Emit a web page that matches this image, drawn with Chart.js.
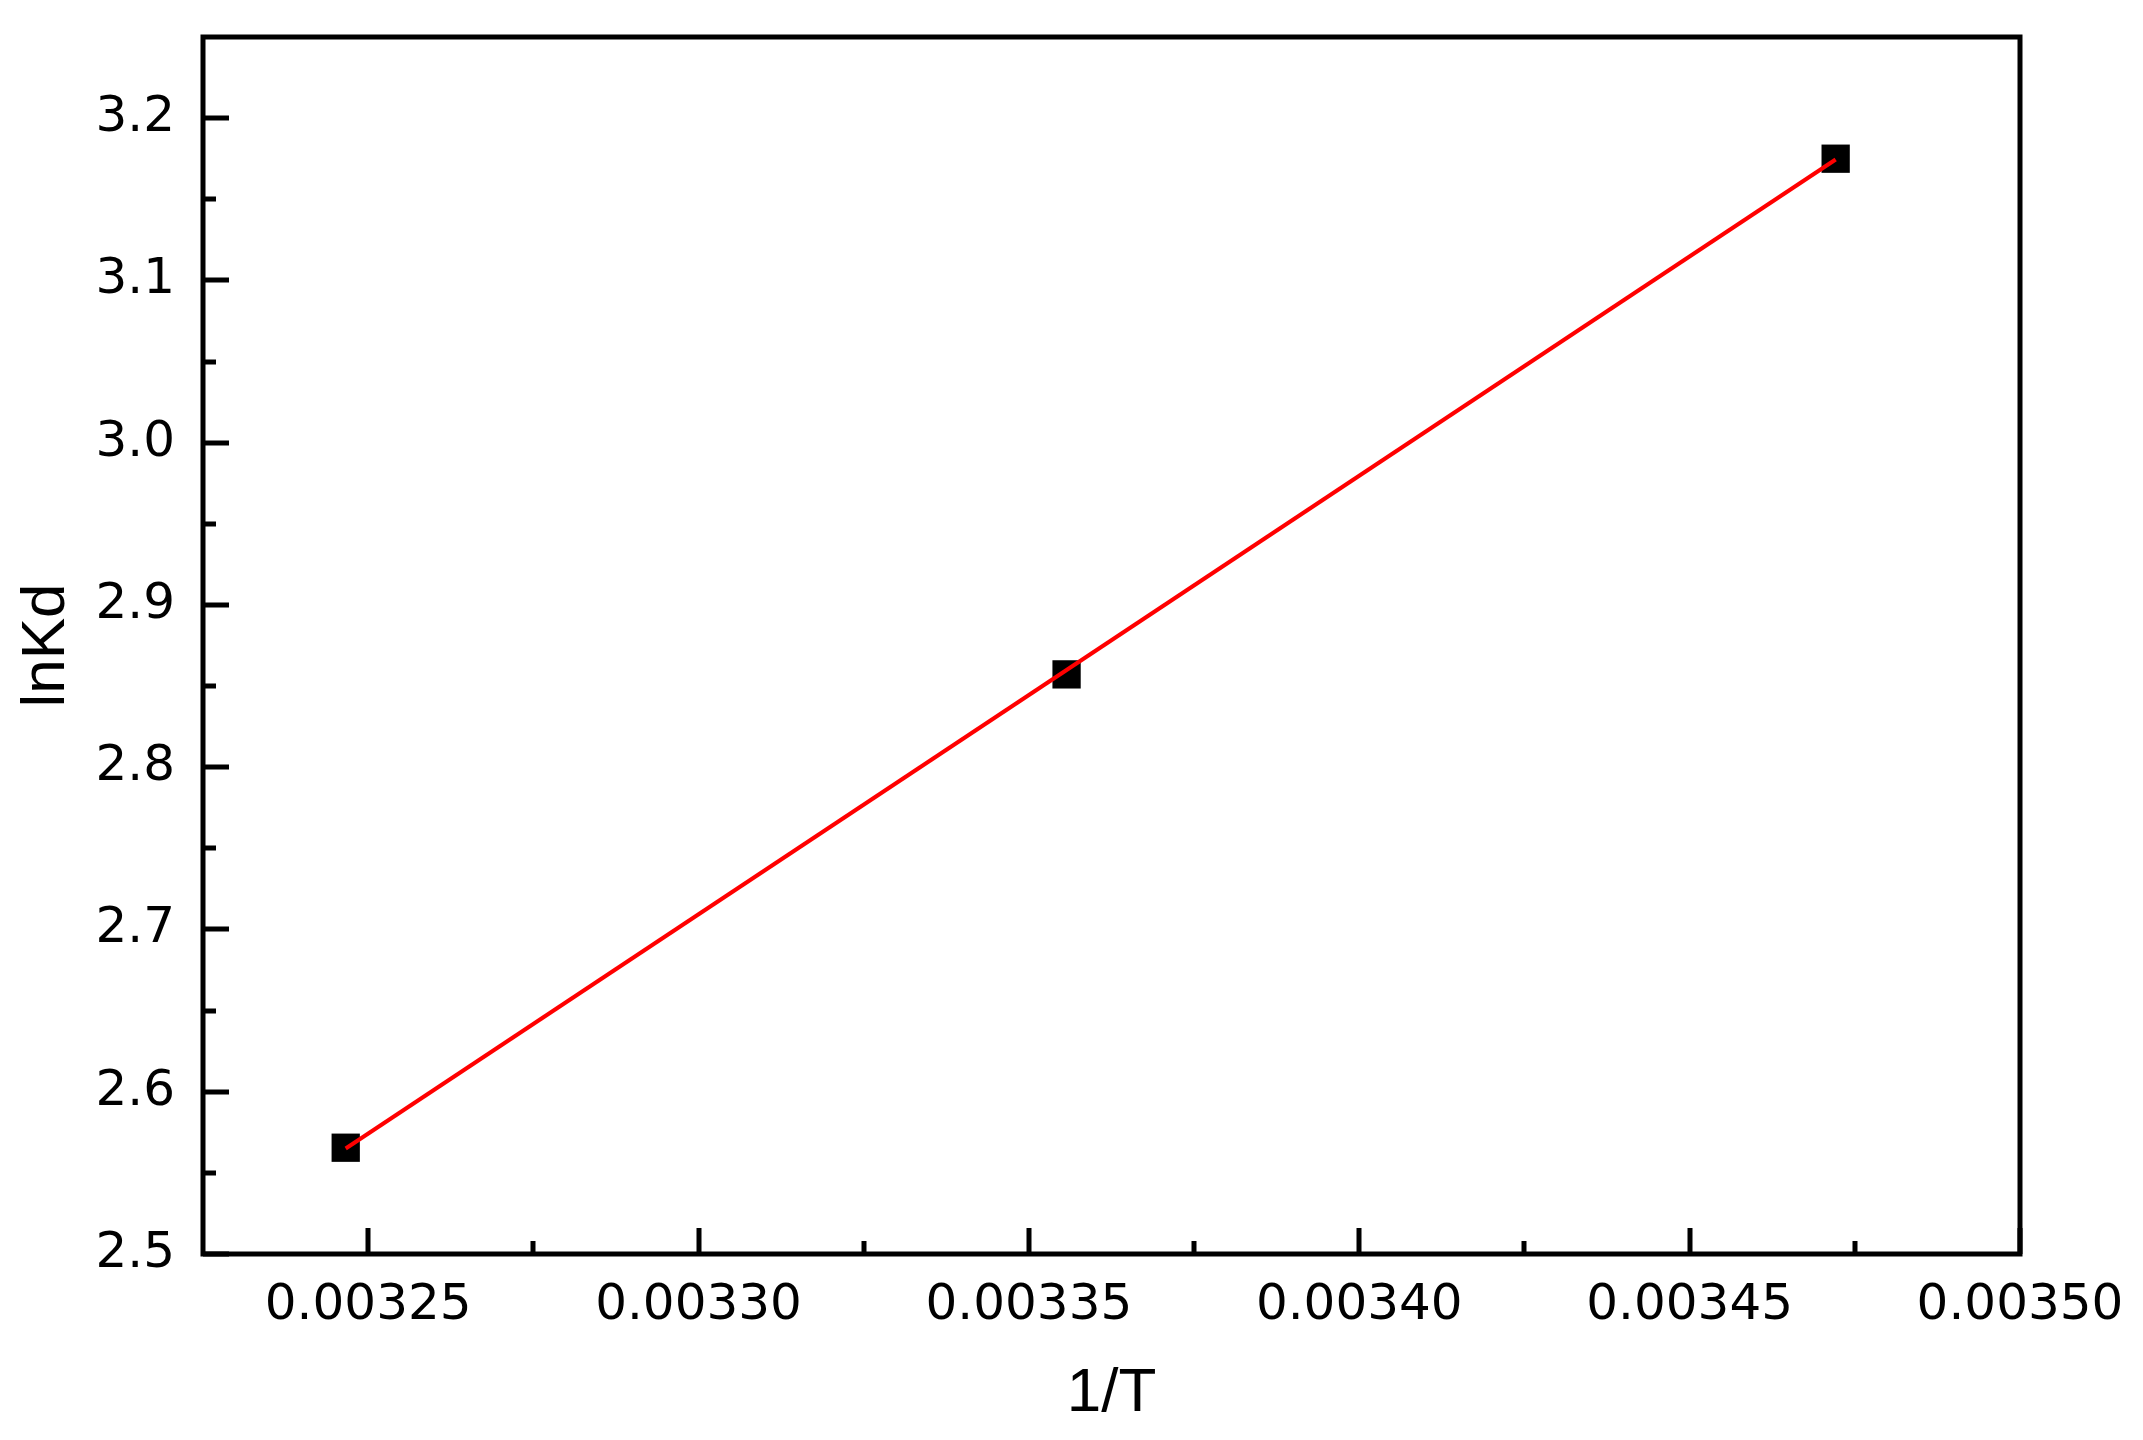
<!DOCTYPE html>
<html>
<head>
<meta charset="utf-8">
<script src="https://cdn.jsdelivr.net/npm/chart.js@4"></script>
<style>
  html, body { margin: 0; padding: 0; background: #fff; }
</style>
</head>
<body>
<canvas id="lnkd-chart" width="2143" height="1440"></canvas>
<script>
// measured points (1/T vs lnKd)
const invT = [0.0032466, 0.0033557, 0.0034721];
const lnKd = [2.5655, 2.8572, 3.175];

// fitted line end points
const fitX = [0.0032466, 0.0034721];
const fitY = [2.5650, 3.1745];

// axis ticks
const xMajor = [0.00325, 0.00330, 0.00335, 0.00340, 0.00345, 0.00350];
const xMinor = [0.003275, 0.003325, 0.003375, 0.003425, 0.003475];
const yMajor = [2.5, 2.6, 2.7, 2.8, 2.9, 3.0, 3.1, 3.2];
const yMinor = [2.55, 2.65, 2.75, 2.85, 2.95, 3.05, 3.15];

const tickFont = { family: "'DejaVu Sans', sans-serif", size: 50 };
const titleFont = { family: "'Liberation Sans', Arial, sans-serif", size: 62 };

// frame + inward ticks, like the Origin plot
const framePlugin = {
  id: 'frame',
  afterDraw(chart) {
    const { ctx, chartArea: a, scales } = chart;
    ctx.save();
    ctx.strokeStyle = '#000';
    ctx.lineWidth = 5;
    ctx.lineCap = 'butt';
    ctx.beginPath();
    xMajor.concat(xMinor).forEach(v => {
      const px = Math.round(scales.x.getPixelForValue(v));
      const len = xMajor.includes(v) ? 26 : 13;
      ctx.moveTo(px, a.bottom);
      ctx.lineTo(px, a.bottom - len);
    });
    yMajor.concat(yMinor).forEach(v => {
      const py = Math.round(scales.y.getPixelForValue(v));
      const len = yMajor.includes(v) ? 26 : 13;
      ctx.moveTo(a.left, py);
      ctx.lineTo(a.left + len, py);
    });
    ctx.stroke();
    ctx.lineJoin = 'miter';
    ctx.strokeRect(a.left, a.top, a.right - a.left, a.bottom - a.top);
    ctx.restore();
  }
};

new Chart(document.getElementById('lnkd-chart'), {
  type: 'scatter',
  data: {
    datasets: [
      {
        label: 'fit',
        type: 'line',
        data: fitX.map((x, i) => ({ x: x, y: fitY[i] })),
        borderColor: '#ff0000',
        borderWidth: 4,
        pointRadius: 0,
        fill: false,
        order: 0
      },
      {
        label: 'lnKd',
        data: invT.map((x, i) => ({ x: x, y: lnKd[i] })),
        pointStyle: 'rect',
        pointRadius: 20,
        pointBorderWidth: 0,
        backgroundColor: '#000',
        borderColor: '#000',
        order: 1
      }
    ]
  },
  options: {
    responsive: false,
    animation: false,
    layout: { padding: { left: 0, top: 37, right: 123, bottom: 0 } },
    plugins: {
      legend: { display: false },
      tooltip: { enabled: false }
    },
    scales: {
      x: {
        type: 'linear',
        min: 0.003225,
        max: 0.0035,
        afterBuildTicks: s => { s.ticks = xMajor.map(v => ({ value: v })); },
        afterFit: s => {
          s.height = 186;
          s.paddingLeft = 0;
          s.paddingRight = 0;
        },
        grid: { display: false, drawTicks: false, tickLength: 0 },
        border: { display: false },
        ticks: {
          color: '#000',
          font: tickFont,
          padding: 22,
          maxRotation: 0,
          autoSkip: false,
          callback: v => Number(v).toFixed(5)
        },
        title: {
          display: true,
          text: '1/T',
          color: '#000',
          font: titleFont,
          padding: { top: 0, bottom: 9 }
        }
      },
      y: {
        type: 'linear',
        min: 2.5,
        max: 3.25,
        afterBuildTicks: s => { s.ticks = yMajor.map(v => ({ value: v })); },
        afterFit: s => {
          s.width = 203;
          s.paddingTop = 0;
          s.paddingBottom = 0;
        },
        grid: { display: false, drawTicks: false, tickLength: 0 },
        border: { display: false },
        ticks: {
          color: '#000',
          font: tickFont,
          padding: 28,
          autoSkip: false,
          callback: v => Number(v).toFixed(1)
        },
        title: {
          display: true,
          text: 'lnKd',
          color: '#000',
          font: titleFont,
          padding: { top: 10, bottom: 0 }
        }
      }
    }
  },
  plugins: [framePlugin]
});
</script>
</body>
</html>
